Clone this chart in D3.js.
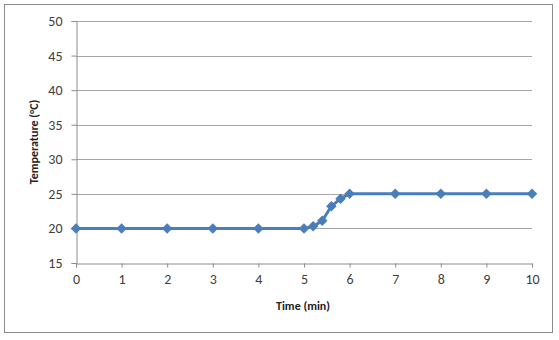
<!DOCTYPE html>
<html>
<head>
<meta charset="utf-8">
<script src="https://d3js.org/d3.v7.min.js"></script>
<style>
  body { margin: 0; background: #fff; }
  svg { display: block; font-family: Carlito, "Open Sans", "Liberation Sans", sans-serif; }
</style>
</head>
<body>
<div class="container"></div>
<script>
// time (min) and temperature (°C)
const times = [0, 1, 2, 3, 4, 5, 5.2, 5.4, 5.6, 5.8, 6, 7, 8, 9, 10];
const temps = [20, 20, 20, 20, 20, 20, 20.3, 21.1, 23.2, 24.3, 25, 25, 25, 25, 25];
const xTicks = [0, 1, 2, 3, 4, 5, 6, 7, 8, 9, 10];
const yTicks = [15, 20, 25, 30, 35, 40, 45, 50];

const w = 559;
const h = 340;

const svg = d3.select(".container")
              .append("svg")
              .attr("width", w)
              .attr("height", h);

/* chart border */
svg.append("rect")
   .attr("x", 4.5)
   .attr("y", 4.5)
   .attr("width", 548)
   .attr("height", 328)
   .attr("fill", "#fff")
   .attr("stroke", "#8c8c8c");

const xScale = d3.scaleLinear().domain([0, 10]).range([76, 532]);
const yScale = d3.scaleLinear().domain([15, 50]).range([263, 21]);

/* gridlines */
svg.append("g")
   .selectAll("line")
   .data(yTicks.filter(d => d > 15))
   .enter()
   .append("line")
   .attr("x1", xScale(0))
   .attr("x2", xScale(10))
   .attr("y1", d => Math.round(yScale(d)) + 0.5)
   .attr("y2", d => Math.round(yScale(d)) + 0.5)
   .attr("stroke", "#a6a6a6");

/* axes */
const xAxis = d3.axisBottom(xScale).tickValues(xTicks).tickSize(4).tickPadding(7);
const yAxis = d3.axisLeft(yScale).tickValues(yTicks).tickSize(5).tickPadding(9);

const gx = svg.append("g")
   .attr("transform", "translate(0," + (Math.round(yScale(15)) + 0.5) + ")")
   .call(xAxis);
const gy = svg.append("g")
   .attr("transform", "translate(" + (xScale(0) + 0.5) + ",0)")
   .call(yAxis);

[gx, gy].forEach(g => {
  g.select(".domain").attr("stroke", "#8c8c8c");
  g.selectAll(".tick line").attr("stroke", "#8c8c8c");
  g.selectAll("text")
   .attr("fill", "#404040")
   .style("font-size", "14px")
   .style("font-family", "Carlito, 'Open Sans', 'Liberation Sans', sans-serif");
});

/* the series */
const pts = times.map((t, i) => [t, temps[i]]);
const line = d3.line()
               .x(d => xScale(d[0]))
               .y(d => yScale(d[1]));

svg.append("path")
   .datum(pts)
   .attr("d", line)
   .attr("fill", "none")
   .attr("stroke", "#4a7ebb")
   .attr("stroke-width", 3)
   .attr("stroke-linejoin", "round");

svg.append("g")
   .selectAll("path")
   .data(pts)
   .enter()
   .append("path")
   .attr("d", d3.symbol().type(d3.symbolDiamond2).size(70))
   .attr("transform", d => "translate(" + xScale(d[0]) + "," + yScale(d[1]) + ")")
   .attr("fill", "#4a7ebb");

/* axis titles */
svg.append("text")
   .text("Time (min)")
   .attr("x", 303)
   .attr("y", 310)
   .attr("text-anchor", "middle")
   .attr("font-weight", "bold")
   .attr("font-size", "12px")
   .attr("fill", "#222");

svg.append("text")
   .text("Temperature (°C)")
   .attr("transform", "translate(38,142) rotate(-90)")
   .attr("text-anchor", "middle")
   .attr("font-weight", "bold")
   .attr("font-size", "12px")
   .attr("fill", "#222");
</script>
</body>
</html>
